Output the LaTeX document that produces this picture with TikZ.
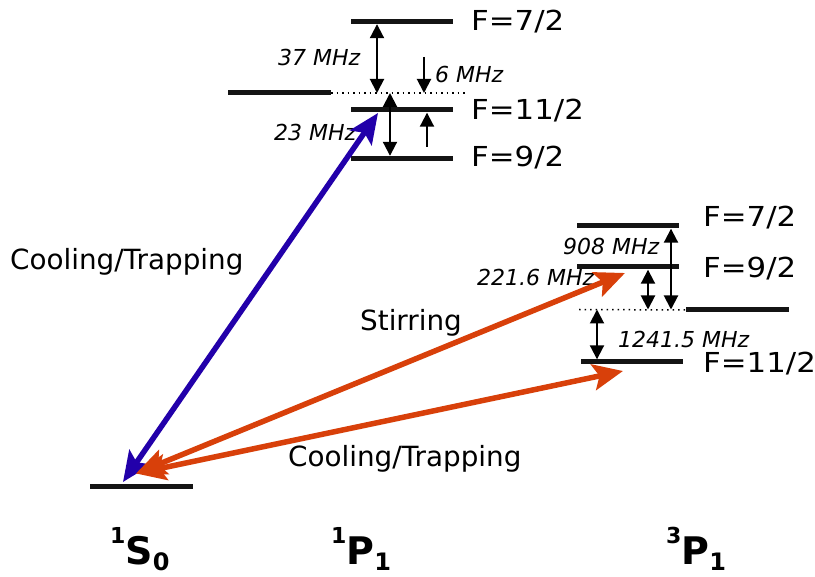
\documentclass[tikz,border=0pt]{standalone}
\usepackage{fontspec}
\setmainfont{DejaVu Sans}
\newfontfamily\levelfont[FakeStretch=1.12]{DejaVu Sans}
\usetikzlibrary{arrows.meta}
\definecolor{coolblue}{RGB}{34,0,170}
\definecolor{laserorange}{RGB}{216,64,10}
\newcommand{\term}[3]{\bfseries\raisebox{21pt}{\fontsize{22}{22}\selectfont #1}\fontsize{38}{38}\selectfont #2\raisebox{-6pt}{\fontsize{24}{24}\selectfont #3}}

\begin{document}
\begin{tikzpicture}[x=1pt, y=-1pt,
  lvl/.style={fill=black!92, inner sep=0pt, minimum height=5pt},
  hfs/.style={line width=2pt, {Triangle[length=14pt,width=14pt]}-{Triangle[length=14pt,width=14pt]}},
  onearrow/.style={line width=2pt, -{Triangle[length=14pt,width=14pt]}},
  laser/.style={line width=5.5pt, {Stealth[length=30pt,width=26pt,inset=6pt]}-{Stealth[length=30pt,width=26pt,inset=6pt]}},
  fline/.style={anchor=base west, inner sep=0pt, font=\levelfont\fontsize{27.5}{30}\selectfont},
  mhz/.style={anchor=base west, inner sep=0pt, font=\fontsize{22}{24}\selectfont\itshape},
  beam/.style={anchor=base west, inner sep=0pt, font=\fontsize{27.8}{30}\selectfont},
  dotline/.style={line width=1.5pt, dash pattern=on 1.5pt off 4pt}]
  \useasboundingbox (0,0) rectangle (815,577);
  \foreach \n/\x/\y/\w in {sS/141.5/487/103, pC/279.5/93/103, pF7/402/21.5/102,
                           pF11/402/110/102, pF9/402/158.5/102, tF7/628/226/102,
                           tF9/628/267/102, tC/737.5/310/103, tF11/632/362/102}
    \node[lvl, minimum width=\w pt] (\n) at (\x,\y) {};
  \coordinate (pD) at (468,93);
  \coordinate (tD) at (579,309.5);
  \draw[dotline] (pC.east) -- (pD);
  \draw[dotline] (tD) -- (tC.west);

  \draw[hfs] (377,0 |- pF7.south) -- (377,0 |- pD);
  \coordinate (sixtop) at (424,57);
  \draw[onearrow] (sixtop) -- (sixtop |- pD);
  \draw[hfs] (390,0 |- pD) -- (390,0 |- pF9.north);
  \coordinate (upbase) at (427,147);
  \draw[onearrow] (upbase) -- (upbase |- pF11.south);
  \draw[hfs] (671,0 |- tF7.south) -- (671,0 |- tD);
  \draw[hfs] (648,0 |- tF9.south) -- (648,0 |- tD);
  \draw[hfs] (597,0 |- tD) -- (597,0 |- tF11.north);

  \node[fline] (lp7)  at (471,31)  {F=7/2};
  \node[fline] (lp11) at (471,120) {F=11/2};
  \node[fline] (lp9)  at (471,167) {F=9/2};
  \node[fline] (lt7)  at (703,227) {F=7/2};
  \node[fline] (lt9)  at (703,278) {F=9/2};
  \node[fline] (lt11) at (703,373) {F=11/2};

  \node[mhz] (m37)   at (278,66)  {37 MHz};
  \node[mhz] (m6)    at (435,83)  {6 MHz};
  \node[mhz] (m23)   at (274,141) {23 MHz};
  \node[mhz] (m908)  at (563,255) {908 MHz};
  \node[mhz] (m221)  at (477,286) {221.6 MHz};
  \node[mhz] (m1241) at (618,348) {1241.5 MHz};

  \node[beam] (cool1) at (10,270)  {Cooling/Trapping};
  \node[beam] (stir)  at (360,331) {Stirring};
  \node[beam] (cool3) at (288,467) {Cooling/Trapping};

  \node[anchor=base west, inner sep=0pt] (tS)  at (110,565) {\term{1}{S}{0}};
  \node[anchor=base west, inner sep=0pt] (tP)  at (331,565) {\term{1}{P}{1}};
  \node[anchor=base west, inner sep=0pt] (tP3) at (666,565) {\term{3}{P}{1}};

  \coordinate (bTop) at (378,113);
  \coordinate (bBot) at (123,482);
  \coordinate (sTop) at (625,273);
  \coordinate (cTop) at (623,371);
  \coordinate (oBot) at (136,473.5);
  \draw[laser, coolblue] (bBot) -- (bTop);
  \draw[laser, laserorange] (oBot) -- (sTop);
  \draw[laser, laserorange] (oBot) -- (cTop);
\end{tikzpicture}
\end{document}
